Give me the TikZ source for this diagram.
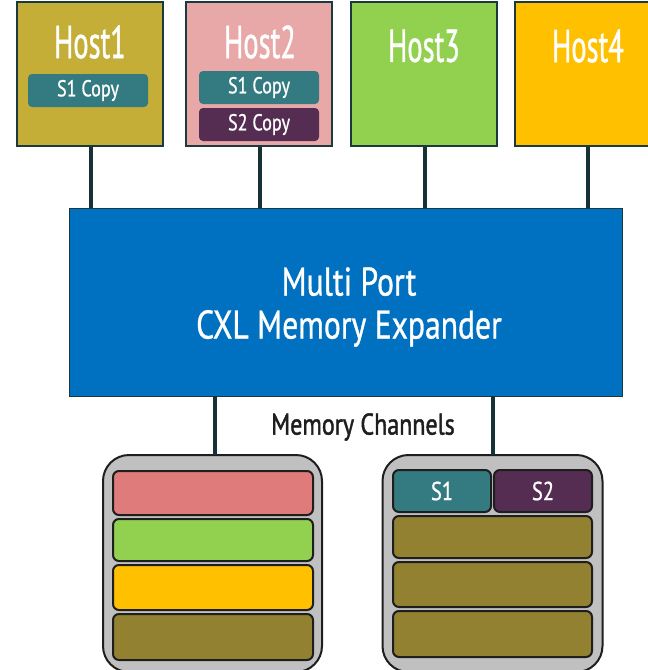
\documentclass[tikz,border=0pt]{standalone}
\usepackage{fontspec}
\setmainfont[FakeStretch=0.79,FakeBold=0.8]{PT Sans}
\newfontfamily\hostf[FakeStretch=0.62,FakeBold=0.8]{PT Sans}
\newfontfamily\chanf[FakeStretch=0.8,FakeBold=1.4]{PT Sans}
\definecolor{hostA}{HTML}{C4AE37}
\definecolor{hostB}{HTML}{E8A8A8}
\definecolor{hostC}{HTML}{92D050}
\definecolor{hostD}{HTML}{FFC000}
\definecolor{cxlblue}{HTML}{0070C0}
\definecolor{edgedark}{HTML}{1B3A40}
\definecolor{linkdark}{HTML}{163236}
\definecolor{tealS}{HTML}{337B81}
\definecolor{purpS}{HTML}{552D52}
\definecolor{modgray}{HTML}{C0C0C0}
\definecolor{barred}{HTML}{E07B7B}
\definecolor{barolive}{HTML}{918130}
\definecolor{bardark}{HTML}{1E1E1E}
\tikzset{
  hostbox/.style={draw=edgedark, line width=2.5pt, minimum width=146pt, minimum height=144pt, inner sep=0pt},
  hosttext/.style={text=white, font=\hostf\fontsize{46}{48}\selectfont, inner sep=0pt},
  copybox/.style={rounded corners=4pt, minimum width=120pt, minimum height=33pt, inner sep=0pt, text=white, font=\fontsize{23}{25}\selectfont},
  link/.style={draw=linkdark, line width=4pt},
  module/.style={draw=bardark, fill=modgray, line width=2pt, rounded corners=26pt, inner sep=0pt},
  bar/.style={draw=bardark, line width=2pt, rounded corners=6pt, inner sep=0pt},
}
\begin{document}
\begin{tikzpicture}[x=1pt,y=-1pt]
\useasboundingbox (0,0) rectangle (648,670);
% connectors (drawn first, under boxes)
\coordinate (c1) at (91,147);
\coordinate (c2) at (260,147);
\coordinate (c3) at (425,147);
\coordinate (c4) at (588,147);
% expander
\node[fill=cxlblue, draw=edgedark, line width=1pt, minimum width=553pt, minimum height=188pt, inner sep=0pt] (exp) at (345.5,302) {};
\draw[link] (c1) -- (c1 |- exp.north);
\draw[link] (c2) -- (c2 |- exp.north);
\draw[link] (c3) -- (c3 |- exp.north);
\draw[link] (c4) -- (c4 |- exp.north);
\node[text=white, font=\fontsize{40}{43}\selectfont, align=center, inner sep=0pt] (expt) at (349,307) {Multi Port\\CXL Memory Expander};
% hosts
\node[hostbox, fill=hostA] (h1) at (90,74) {};
\node[hostbox, fill=hostB] (h2) at (259,74) {};
\node[hostbox, fill=hostC] (h3) at (424,74) {};
\node[hostbox, fill=hostD] (h4) at (588,74) {};
\node[hosttext] (h1t) at (90,42) {Host1};
\node[hosttext] (h2t) at (260,42) {Host2};
\node[hosttext] (h3t) at (424,46) {Host3};
\node[hosttext] (h4t) at (588,46) {Host4};
\node[copybox, fill=tealS] (h1s1) at (88,90.5) {S1 Copy};
\node[copybox, fill=tealS] (h2s1) at (259,87.5) {S1 Copy};
\node[copybox, fill=purpS] (h2s2) at (259,124.5) {S2 Copy};
% memory modules
\node[module, minimum width=219pt, minimum height=217pt] (m1) at (212.5,563.5) {};
\node[module, minimum width=220pt, minimum height=217pt] (m2) at (492.5,563.5) {};
\draw[link] (215,396) -- (215,455);
\draw[link] (493,396) -- (493,455);
\node[text=bardark, font=\chanf\fontsize{30}{32}\selectfont, inner sep=0pt] (mc) at (363,427) {Memory Channels};
% left module bars
\node[bar, fill=barred, minimum width=200pt, minimum height=44pt] (l1) at (213,493) {};
\node[bar, fill=hostC, minimum width=200pt, minimum height=42pt] (l2) at (213,540) {};
\node[bar, fill=hostD, minimum width=200pt, minimum height=45pt] (l3) at (213,587.5) {};
\node[bar, fill=barolive, minimum width=200pt, minimum height=46pt] (l4) at (213,637) {};
% right module bars
\node[bar, fill=tealS, minimum width=98pt, minimum height=42pt, text=white, font=\fontsize{26}{28}\selectfont] (r1) at (442,491) {S1};
\node[bar, fill=purpS, minimum width=98pt, minimum height=42pt, text=white, font=\fontsize{26}{28}\selectfont] (r2) at (543,491) {S2};
\node[bar, fill=barolive, minimum width=199pt, minimum height=42pt] (r3) at (492.5,537) {};
\node[bar, fill=barolive, minimum width=199pt, minimum height=45pt] (r4) at (492.5,584.5) {};
\node[bar, fill=barolive, minimum width=199pt, minimum height=46pt] (r5) at (492.5,634) {};
\end{tikzpicture}
\end{document}
